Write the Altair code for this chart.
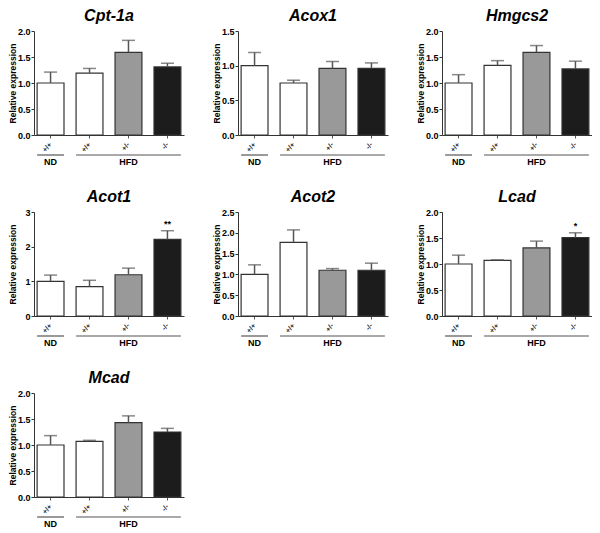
import altair as alt
import pandas as pd

# ---- data ----
genes = ["Cpt-1a", "Acox1", "Hmgcs2", "Acot1", "Acot2", "Lcad", "Mcad"]
categories = ["ND +/+", "HFD +/+", "HFD +/-", "HFD -/-"]
bar_colors = ["#ffffff", "#ffffff", "#999999", "#1c1c1c"]

mean_cpt1a = [1.00, 1.19, 1.59, 1.31]
err_cpt1a = [1.21, 1.28, 1.82, 1.38]
mean_acox1 = [1.00, 0.75, 0.96, 0.96]
err_acox1 = [1.19, 0.79, 1.06, 1.04]
mean_hmgcs2 = [1.00, 1.34, 1.59, 1.27]
err_hmgcs2 = [1.16, 1.43, 1.72, 1.42]
mean_acot1 = [1.00, 0.85, 1.19, 2.21]
err_acot1 = [1.18, 1.03, 1.38, 2.46]
mean_acot2 = [1.00, 1.77, 1.10, 1.10]
err_acot2 = [1.23, 2.07, 1.14, 1.27]
mean_lcad = [1.00, 1.07, 1.31, 1.51]
err_lcad = [1.17, 1.08, 1.44, 1.60]
mean_mcad = [1.00, 1.07, 1.43, 1.25]
err_mcad = [1.18, 1.09, 1.56, 1.32]

sig_none = ["", "", "", ""]
sig_acot1 = ["", "", "", "**"]
sig_lcad = ["", "", "", "*"]

ticks_2 = [0.0, 0.5, 1.0, 1.5, 2.0]
ticks_15 = [0.0, 0.5, 1.0, 1.5]
ticks_3 = [0, 1, 2, 3]
ticks_25 = [0.0, 0.5, 1.0, 1.5, 2.0, 2.5]

groups = ["ND", "HFD"]
group_start = ["ND +/+", "HFD +/+"]
group_end = ["ND +/+", "HFD -/-"]
group_center = ["ND +/+", "HFD +/-"]

W = 150
H = 104
FONT = "Liberation Sans"


def panel(gene, means, errs, ymax, ticks, fmt, sig):
    df = pd.DataFrame({"cat": categories, "mean": means, "err": errs, "sig": sig})
    gdf = pd.DataFrame({"group": groups, "start": group_start,
                        "end": group_end, "center": group_center})
    xs = alt.Scale(domain=categories, paddingInner=0.31, paddingOuter=0.08)
    ys = alt.Scale(domain=[0, ymax], nice=False, zero=True)
    x_axis = alt.Axis(
        title=None, labelExpr="split(datum.label, ' ')[1]", labelAngle=-50,
        labelFontSize=7, labelFontWeight="bold", labelPadding=5, tickSize=3,
        labelAlign="right", labelBaseline="middle", domainColor="#333333",
        tickColor="#555555", labelColor="#222222", labelOverlap=False)
    y_axis = alt.Axis(
        title="Relative expression", titleFontSize=8.5, titleFontWeight="bold",
        labelFontSize=9, labelFontWeight="bold", values=ticks, format=fmt,
        tickSize=3, labelPadding=1, minExtent=16, maxExtent=16, titlePadding=1,
        domainColor="#333333", tickColor="#333333", labelColor="#000000",
        titleColor="#000000", labelOverlap=False)

    def X(f):
        return alt.X(f, scale=xs, axis=x_axis, title=None)

    def Y(f):
        return alt.Y(f, scale=ys, axis=y_axis, title="Relative expression")

    base = alt.Chart(df)
    bars = base.mark_bar(stroke="#333333", strokeWidth=1.2).encode(
        x=X("cat:N"),
        y=Y("mean:Q"),
        fill=alt.Fill("cat:N", scale=alt.Scale(domain=categories, range=bar_colors),
                      legend=None),
    )
    ebar = base.mark_rule(color="#555555", strokeWidth=1.5).encode(
        x=X("cat:N"),
        y=Y("err:Q"),
        y2="mean:Q",
    )
    cap = base.mark_tick(color="#555555", thickness=1.5, size=13,
                         orient="horizontal").encode(
        x=X("cat:N"),
        y=Y("err:Q"),
    )
    sigt = base.mark_text(baseline="bottom", dy=-2, fontSize=9,
                          fontWeight="bold", font=FONT).encode(
        x=X("cat:N"),
        y=Y("err:Q"),
        text="sig:N",
    )
    gl = alt.Chart(gdf).mark_rule(color="#555555", strokeWidth=1.2).encode(
        x=alt.X("start:N", bandPosition=0, scale=xs, axis=x_axis, title=None),
        x2=alt.X2("end:N", bandPosition=1),
        y=alt.value(H + 20),
    )
    gt = alt.Chart(gdf).mark_text(fontSize=9, fontWeight="bold", font=FONT,
                                  baseline="middle").encode(
        x=X("center:N"),
        y=alt.value(H + 27),
        text="group:N",
    )
    return alt.layer(bars, ebar, cap, sigt, gl, gt).properties(
        width=W, height=H,
        title=alt.Title(gene, fontSize=16, fontStyle="italic", fontWeight="bold",
                        font=FONT, offset=3, anchor="middle", color="#000000",
                        frame="group"),
    )


p1 = panel(genes[0], mean_cpt1a, err_cpt1a, 2.0, ticks_2, ".1f", sig_none)
p2 = panel(genes[1], mean_acox1, err_acox1, 1.5, ticks_15, ".1f", sig_none)
p3 = panel(genes[2], mean_hmgcs2, err_hmgcs2, 2.0, ticks_2, ".1f", sig_none)
p4 = panel(genes[3], mean_acot1, err_acot1, 3.0, ticks_3, "d", sig_acot1)
p5 = panel(genes[4], mean_acot2, err_acot2, 2.5, ticks_25, ".1f", sig_none)
p6 = panel(genes[5], mean_lcad, err_lcad, 2.0, ticks_2, ".1f", sig_lcad)
p7 = panel(genes[6], mean_mcad, err_mcad, 2.0, ticks_2, ".1f", sig_none)

row1 = alt.hconcat(p1, p2, p3, spacing=28)
row2 = alt.hconcat(p4, p5, p6, spacing=28)
row3 = alt.hconcat(p7, spacing=28)

chart = alt.vconcat(row1, row2, row3, spacing=22).properties(
    padding=0, background="#ffffff"
).configure(font=FONT).configure_view(stroke=None).configure_axis(grid=False)

chart.save("out.html", embed_options={"renderer": "svg", "actions": False})
